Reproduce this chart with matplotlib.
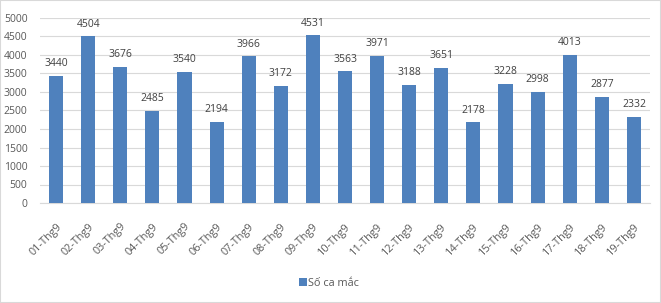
import matplotlib
matplotlib.use("Agg")
import matplotlib.pyplot as plt
from matplotlib.patches import Rectangle

categories = ["01-Thg9", "02-Thg9", "03-Thg9", "04-Thg9", "05-Thg9", "06-Thg9", "07-Thg9",
              "08-Thg9", "09-Thg9", "10-Thg9", "11-Thg9", "12-Thg9", "13-Thg9", "14-Thg9",
              "15-Thg9", "16-Thg9", "17-Thg9", "18-Thg9", "19-Thg9"]
values = [3440, 4504, 3676, 2485, 3540, 2194, 3966, 3172, 4531, 3563, 3971, 3188, 3651,
          2178, 3228, 2998, 4013, 2877, 2332]
series_name = "Số ca mắc"
yticks = [0, 500, 1000, 1500, 2000, 2500, 3000, 3500, 4000, 4500, 5000]

plt.rcParams['font.family'] = ['Open Sans', 'DejaVu Sans']

fig = plt.figure(figsize=(6.61, 3.03), dpi=100)
ax = fig.add_axes([40/661, (303-203)/303, 610/661, 185/303])

x = list(range(len(categories)))
bars = ax.bar(x, values, width=0.44, color="#4f81bd", label=series_name, zorder=3)
for xi, v in zip(x, values):
    ax.text(xi, v + 180, str(v), ha="center", va="bottom", fontsize=7.5, color="#404040")

ax.set_xlim(-0.5, len(categories) - 0.5)
ax.set_ylim(0, 5000)
ax.set_yticks(yticks)
ax.set_yticklabels([str(t) for t in yticks], fontsize=7.5, color="#595959")
ax.set_xticks(x)
ax.set_xticklabels(categories, rotation=45, ha="right", rotation_mode="anchor",
                   fontsize=7.8, color="#595959")
ax.tick_params(axis="y", length=0, pad=9)
ax.tick_params(axis="x", length=0, pad=13)
ax.grid(axis="y", color="#d9d9d9", linewidth=0.8, zorder=0)
for s in ["top", "right", "left"]:
    ax.spines[s].set_visible(False)
ax.spines["bottom"].set_color("#d9d9d9")

leg = fig.legend(handles=[bars], labels=[series_name], loc="center",
                 bbox_to_anchor=(329/661, (303-283)/303), frameon=False,
                 fontsize=7.8, handlelength=0.7, handleheight=0.7, handletextpad=0.1)
for t in leg.get_texts():
    t.set_color("#595959")

fig.patches.append(Rectangle((0, 0), 1, 1, transform=fig.transFigure, fill=False,
                             edgecolor="#d9d9d9", linewidth=1.5))
fig.savefig("out.png", dpi=100)
